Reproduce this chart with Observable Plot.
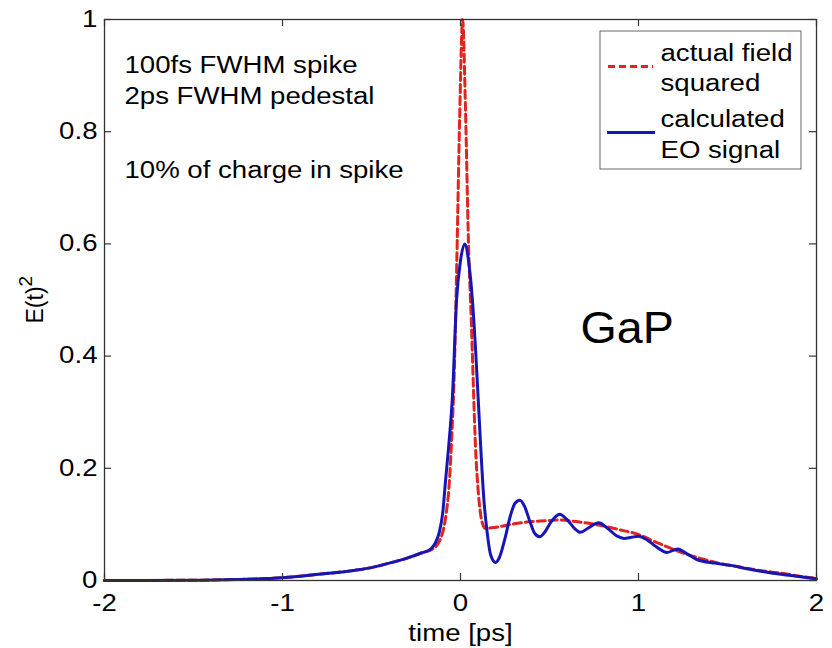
<!DOCTYPE html>
<html><head><meta charset="utf-8">
<script src="https://cdn.jsdelivr.net/npm/d3@7"></script>
<script src="https://cdn.jsdelivr.net/npm/@observablehq/plot@0.6"></script>
<style>body{margin:0;background:#fff} svg{display:block}</style>
</head><body><div id="chart"></div>
<script>
// ---- data ----
const xTicks = [-2, -1, 0, 1, 2];
const yTicks = [0, 0.2, 0.4, 0.6, 0.8, 1];

// actual field squared (red dashed)
const fieldTime = [-2, -1.5, -1.25, -1.0, -0.8, -0.6, -0.5, -0.4, -0.3, -0.22, -0.157, -0.13, -0.11, -0.095, -0.08, -0.065, -0.05, -0.035, -0.02, -0.005, 0.012, 0.028, 0.045, 0.062, 0.075, 0.084, 0.097, 0.112, 0.125, 0.14, 0.2, 0.3, 0.4, 0.5, 0.56, 0.65, 0.79, 0.9, 0.99, 1.1, 1.2, 1.33, 1.45, 1.57, 1.7, 1.8, 1.9, 2.0];
const fieldValue = [0, 0.0005, 0.002, 0.005, 0.011, 0.018, 0.023, 0.031, 0.04, 0.049, 0.056, 0.064, 0.076, 0.092, 0.12, 0.165, 0.25, 0.37, 0.58, 0.82, 1.0, 0.84, 0.6, 0.45, 0.32, 0.24, 0.17, 0.12, 0.1, 0.093, 0.095, 0.101, 0.105, 0.107, 0.108, 0.105, 0.098, 0.09, 0.083, 0.068, 0.055, 0.041, 0.031, 0.024, 0.017, 0.013, 0.008, 0.004];

// calculated EO signal (blue solid)
const eoTime = [-2, -1.5, -1.25, -1.0, -0.8, -0.6, -0.5, -0.4, -0.3, -0.22, -0.168, -0.14, -0.12, -0.1, -0.084, -0.067, -0.045, -0.022, 0.0, 0.024, 0.045, 0.067, 0.085, 0.1, 0.115, 0.13, 0.15, 0.17, 0.197, 0.22, 0.25, 0.28, 0.305, 0.333, 0.36, 0.39, 0.415, 0.445, 0.475, 0.51, 0.557, 0.6, 0.64, 0.674, 0.72, 0.777, 0.83, 0.88, 0.92, 0.96, 1.0, 1.05, 1.1, 1.16, 1.22, 1.27, 1.33, 1.43, 1.52, 1.61, 1.7, 1.8, 1.9, 2.0];
const eoValue = [0, 0.0005, 0.002, 0.005, 0.011, 0.018, 0.023, 0.031, 0.04, 0.049, 0.056, 0.068, 0.085, 0.12, 0.178, 0.237, 0.33, 0.5, 0.57, 0.6, 0.57, 0.5, 0.41, 0.32, 0.23, 0.15, 0.085, 0.045, 0.032, 0.042, 0.075, 0.115, 0.137, 0.143, 0.132, 0.105, 0.085, 0.078, 0.087, 0.105, 0.118, 0.108, 0.093, 0.086, 0.094, 0.103, 0.092, 0.079, 0.075, 0.077, 0.079, 0.072, 0.06, 0.05, 0.056, 0.048, 0.037, 0.031, 0.027, 0.021, 0.016, 0.011, 0.007, 0.003];

const legendLabels = [["actual field", "squared"], ["calculated", "EO signal"]];
const notes = ["100fs FWHM spike", "2ps FWHM pedestal", "10% of charge in spike"];
const materialLabel = "GaP";
const xLabel = "time [ps]";
const yLabel = "E(t)";

// ---- build ----
const field = fieldTime.map((t, i) => ({t, v: fieldValue[i]}));
const eo = eoTime.map((t, i) => ({t, v: eoValue[i]}));

const RED = "#e0241f", BLUE = "#1616b6", AX = "#333";
const W = 832, H = 648, ML = 104, MR = 16, MT = 19, MB = 68;
const innerW = W - ML - MR, innerH = H - MT - MB, TICK = 7;

const plot = Plot.plot({
  width: W, height: H,
  marginLeft: ML, marginRight: MR, marginTop: MT, marginBottom: MB,
  style: {fontFamily: "'Liberation Sans', Arial, sans-serif", fontSize: "23px", background: "#fff", color: "#000", overflow: "visible"},
  x: {domain: [-2, 2]},
  y: {domain: [0, 1]},
  marks: [
    Plot.line(field, {x: "t", y: "v", stroke: RED, strokeWidth: 3, strokeDasharray: "8,4", curve: "monotone-x"}),
    Plot.line(eo, {x: "t", y: "v", stroke: BLUE, strokeWidth: 3, curve: "monotone-x"}),
    Plot.frame({stroke: AX, strokeWidth: 1.3}),
    // inward ticks on all four sides
    Plot.tickX(xTicks, {x: d => d, insetTop: innerH - TICK, stroke: AX, strokeWidth: 1.2}),
    Plot.tickX(xTicks, {x: d => d, insetBottom: innerH - TICK, stroke: AX, strokeWidth: 1.2}),
    Plot.tickY(yTicks, {y: d => d, insetRight: innerW - TICK, stroke: AX, strokeWidth: 1.2}),
    Plot.tickY(yTicks, {y: d => d, insetLeft: innerW - TICK, stroke: AX, strokeWidth: 1.2}),
    Plot.axisX({ticks: xTicks, tickSize: 0, tickPadding: 14, tickFormat: d => String(d), label: null, fill: "#000"}),
    Plot.axisY({ticks: yTicks, tickSize: 0, tickPadding: 7, tickFormat: d => String(d), label: null, fill: "#000"}),
    // axis titles
    Plot.text([xLabel], {frameAnchor: "bottom", dy: 60, text: d => d, textAnchor: "middle", lineAnchor: "bottom"}),
    Plot.text([yLabel], {frameAnchor: "left", dx: -69, dy: 23.5, rotate: -90, text: d => d, textAnchor: "start", lineAnchor: "middle"}),
    // annotations
    Plot.text([notes[0]], {x: -1.888, y: 0.9055, text: d => d, textAnchor: "start", lineAnchor: "bottom"}),
    Plot.text([notes[1]], {x: -1.888, y: 0.850, text: d => d, textAnchor: "start", lineAnchor: "bottom"}),
    Plot.text([notes[2]], {x: -1.888, y: 0.718, text: d => d, textAnchor: "start", lineAnchor: "bottom"}),
    Plot.text([materialLabel], {x: 0.674, y: 0.4225, text: d => d, fontSize: 44, textAnchor: "start", lineAnchor: "bottom"}),
    // legend
    Plot.rect([0], {x1: 0.7865, x2: 1.9157, y1: 0.7326, y2: 0.9786, fill: "#fff", stroke: "#666", strokeWidth: 1}),
    Plot.ruleY([0.9162], {x1: 0.8315, x2: 1.0843, stroke: RED, strokeWidth: 3, strokeDasharray: "7,4"}),
    Plot.ruleY([0.7986], {x1: 0.826, x2: 1.0955, stroke: BLUE, strokeWidth: 3}),
    Plot.text([legendLabels[0][0]], {x: 1.1236, y: 0.9269, text: d => d, textAnchor: "start", lineAnchor: "bottom"}),
    Plot.text([legendLabels[0][1]], {x: 1.1236, y: 0.8734, text: d => d, textAnchor: "start", lineAnchor: "bottom"}),
    Plot.text([legendLabels[1][0]], {x: 1.1236, y: 0.8075, text: d => d, textAnchor: "start", lineAnchor: "bottom"}),
    Plot.text([legendLabels[1][1]], {x: 1.1236, y: 0.754, text: d => d, textAnchor: "start", lineAnchor: "bottom"})
  ]
});

document.getElementById("chart").append(plot);

// horizontal stretch of the text as in the reference, superscript on y label
plot.querySelectorAll("text").forEach(el => {
  const s = el.textContent;
  if (!s || el.querySelector("tspan")) return;
  if (s === yLabel) {
    const sup = document.createElementNS("http://www.w3.org/2000/svg", "tspan");
    sup.setAttribute("dy", "-0.55em");
    sup.setAttribute("font-size", "19px");
    sup.textContent = "2";
    el.appendChild(sup);
    return;
  }
  const f = s === materialLabel ? 1.06 : 1.2;
  const L = el.getComputedTextLength();
  el.setAttribute("textLength", (L * f).toFixed(1));
  el.setAttribute("lengthAdjust", "spacingAndGlyphs");
});
</script>
</body></html>
